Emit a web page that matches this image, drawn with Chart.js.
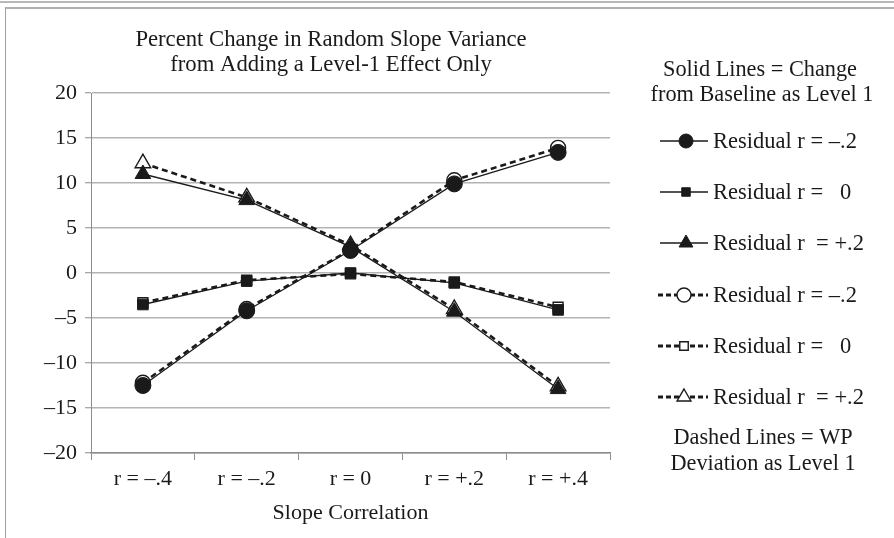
<!DOCTYPE html>
<html>
<head>
<meta charset="utf-8">
<title>Percent Change in Random Slope Variance</title>
<script src="https://cdn.jsdelivr.net/npm/chart.js@4/dist/chart.umd.min.js"></script>
<style>
  html, body { margin: 0; padding: 0; background: #fff; }
  #wrap { position: relative; width: 894px; height: 538px; overflow: hidden; }
  #chart { position: absolute; left: 0; top: 0; }
  .rule-top { position: absolute; left: 0; top: 1px; width: 894px; height: 0; border-top: 2px solid #b8b8b8; }
  .frame { position: absolute; left: 5px; top: 7px; width: 900px; height: 540px;
           border-left: 1px solid #a0a0a0; border-top: 2px solid #b0b0b0; }
</style>
</head>
<body>
<div id="wrap">
  <div class="rule-top"></div>
  <div class="frame"></div>
  <canvas id="chart" width="894" height="538"></canvas>
</div>
<script>
// Slope correlation conditions along the x axis
const categories = ['r = \u2013.4', 'r = \u2013.2', 'r = 0', 'r = +.2', 'r = +.4'];

// Solid lines: change from baseline as level 1
const changeNeg  = [-12.5, -4.2, 2.5, 9.9, 13.4];
const changeZero = [-3.5, -0.9, 0.0, -1.1, -4.1];
const changePos  = [11.0, 8.1, 2.9, -4.3, -12.9];

// Dashed lines: WP deviation as level 1
const wpNeg  = [-12.2, -4.0, 2.6, 10.3, 13.9];
const wpZero = [-3.3, -0.8, -0.1, -1.0, -3.8];
const wpPos  = [12.2, 8.4, 3.1, -4.0, -12.6];

const yTicks = { min: -20, max: 20, step: 5 };

const titleLines = ['Percent Change in Random Slope Variance', 'from Adding a Level-1 Effect Only'];
const solidNote  = ['Solid Lines = Change', 'from Baseline as Level 1'];
const dashedNote = ['Dashed Lines = WP', 'Deviation as Level 1'];
const seriesLabels = [
  'Residual r = \u2013.2',
  'Residual r =   0',
  'Residual r  = +.2',
  'Residual r = \u2013.2',
  'Residual r =   0',
  'Residual r  = +.2'
];

const SERIF = '"Liberation Serif", "Times New Roman", serif';
const INK = '#1a1a1a';

function solidSet(label, data, style, radius) {
  return {
    label, data,
    borderColor: INK, backgroundColor: INK, borderWidth: 1.3,
    pointStyle: style, pointRadius: radius, pointHoverRadius: radius,
    pointBackgroundColor: INK, pointBorderColor: INK, pointBorderWidth: 1,
    tension: 0, fill: false
  };
}
function dashedSet(label, data, style, radius) {
  return {
    label, data,
    borderColor: INK, backgroundColor: '#fff', borderWidth: 2.6, borderDash: [6, 4],
    pointStyle: style, pointRadius: radius, pointHoverRadius: radius,
    pointBackgroundColor: '#fff', pointBorderColor: INK, pointBorderWidth: 1.4,
    tension: 0, fill: false
  };
}

// Solid series first so they are painted over the dashed ones
const datasets = [
  solidSet(seriesLabels[0], changeNeg, 'circle', 8),
  solidSet(seriesLabels[1], changeZero, 'rect', 7.5),
  solidSet(seriesLabels[2], changePos, 'triangle', 9),
  dashedSet(seriesLabels[3], wpNeg, 'circle', 7.5),
  dashedSet(seriesLabels[4], wpZero, 'rect', 7),
  dashedSet(seriesLabels[5], wpPos, 'triangle', 9)
];

// Title, side notes and a line-with-marker legend drawn onto the canvas
const annotations = {
  id: 'annotations',
  afterDraw(chart) {
    const ctx = chart.ctx;
    ctx.save();
    ctx.fillStyle = INK;
    ctx.textBaseline = 'middle';
    ctx.textAlign = 'center';
    ctx.font = '22.7px ' + SERIF;
    ctx.fillText(titleLines[0], 331, 40);
    ctx.fillText(titleLines[1], 331, 65);
    ctx.font = '22.3px ' + SERIF;
    ctx.fillText(solidNote[0], 760, 70);
    ctx.fillText(solidNote[1], 762, 95);
    ctx.fillText(dashedNote[0], 763, 438);
    ctx.fillText(dashedNote[1], 763, 464);

    const rowY = [141, 192, 243, 295, 346, 397];
    chart.data.datasets.forEach((ds, i) => {
      const y = rowY[i];
      const dashed = !!ds.borderDash;
      ctx.save();
      ctx.strokeStyle = INK;
      ctx.lineWidth = dashed ? 3 : 1.3;
      ctx.setLineDash(dashed ? [5, 3] : []);
      ctx.beginPath();
      ctx.moveTo(dashed ? 658 : 660, y);
      ctx.lineTo(708, y);
      ctx.stroke();
      ctx.setLineDash([]);
      ctx.fillStyle = ds.pointBackgroundColor;
      ctx.strokeStyle = ds.pointBorderColor;
      ctx.lineWidth = ds.pointBorderWidth;
      const r = ds.pointStyle === 'rect' ? 6 : (ds.pointStyle === 'triangle' ? 8 : 7);
      Chart.helpers.drawPoint(ctx, {
        pointStyle: ds.pointStyle, radius: r, rotation: 0, borderWidth: ds.pointBorderWidth
      }, dashed ? 684 : 686, y);
      ctx.restore();
      ctx.fillStyle = INK;
      ctx.textAlign = 'left';
      ctx.font = '22.5px ' + SERIF;
      ctx.fillText(ds.label, 713, y + 1);
    });
    ctx.restore();
  }
};

new Chart(document.getElementById('chart'), {
  type: 'line',
  data: { labels: categories, datasets },
  plugins: [annotations],
  options: {
    responsive: false,
    animation: false,
    events: [],
    layout: { padding: { top: 93, right: 284, left: 0, bottom: 0 } },
    plugins: { legend: { display: false }, tooltip: { enabled: false }, title: { display: false } },
    scales: {
      x: {
        type: 'category',
        offset: true,
        grid: { offset: true, drawOnChartArea: false, drawTicks: true, tickLength: 7, color: '#8c8c8c', lineWidth: 1 },
        border: { display: true, color: '#8c8c8c', width: 1.5 },
        ticks: { color: INK, font: { family: SERIF, size: 22 }, padding: 6, maxRotation: 0, autoSkip: false },
        title: { display: true, text: 'Slope Correlation', color: INK, font: { family: SERIF, size: 22 }, padding: { top: 2, bottom: 12 } },
        afterFit(scale) { scale.height = 85; }
      },
      y: {
        min: yTicks.min, max: yTicks.max,
        grid: { color: '#b4b4b4', lineWidth: 1.5, tickLength: 6, tickColor: '#8c8c8c', tickWidth: 1 },
        border: { display: true, color: '#8c8c8c', width: 1 },
        ticks: {
          stepSize: yTicks.step, color: INK, padding: 8,
          font: { family: SERIF, size: 22 },
          callback: v => (v < 0 ? '\u2013' + Math.abs(v) : String(v))
        },
        afterFit(scale) { scale.width = 91; }
      }
    }
  }
});
</script>
</body>
</html>
